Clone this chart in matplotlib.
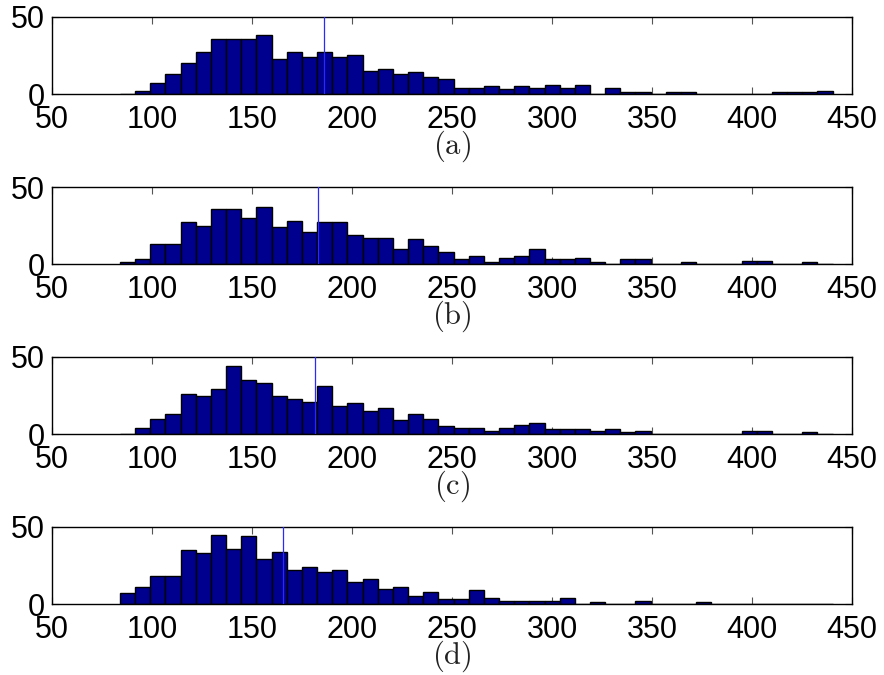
# Four stacked histograms (a)-(d) with a vertical marker line in each panel.

import numpy as np
import matplotlib
matplotlib.use("Agg")
import matplotlib.pyplot as plt
from matplotlib.transforms import offset_copy

# ----------------- DATA -----------------
# common histogram bins: 47 bins between ~84 and ~440
BIN_EDGES = np.linspace(84.0, 440.3, 48)

COUNTS_A = [0, 2, 7, 13, 20, 27, 36, 36, 36, 38, 23, 27, 24, 27, 24, 25,
            15, 16, 13, 14, 11, 10, 4, 4, 5, 3, 5, 4, 6, 4, 6, 0, 4, 1, 1,
            0, 1, 1, 0, 0, 0, 0, 0, 1, 1, 1, 2]
COUNTS_B = [1, 3, 13, 13, 27, 25, 36, 36, 30, 37, 24, 28, 21, 27, 27, 19,
            17, 17, 10, 16, 12, 8, 3, 5, 1, 4, 5, 10, 3, 3, 4, 1, 0, 3, 3,
            0, 0, 1, 0, 0, 0, 2, 2, 0, 0, 1, 0]
COUNTS_C = [0, 4, 10, 13, 26, 25, 29, 44, 35, 33, 25, 23, 21, 31, 18, 20,
            15, 17, 9, 13, 10, 5, 4, 4, 2, 4, 6, 7, 3, 3, 3, 2, 3, 1, 2,
            0, 0, 0, 0, 0, 0, 2, 2, 0, 0, 1, 0]
COUNTS_D = [7, 11, 18, 18, 35, 33, 45, 36, 44, 29, 34, 22, 24, 21, 22, 14,
            16, 10, 11, 5, 8, 3, 3, 9, 4, 2, 2, 2, 2, 4, 0, 1, 0, 0, 2,
            0, 0, 0, 1, 0, 0, 0, 0, 0, 0, 0, 0]

PANEL_COUNTS = [COUNTS_A, COUNTS_B, COUNTS_C, COUNTS_D]
PANEL_LABELS = ["(a)", "(b)", "(c)", "(d)"]
MARKER_X = [185.8, 183.0, 181.7, 165.5]   # vertical line positions

X_TICKS = [50, 100, 150, 200, 250, 300, 350, 400, 450]
Y_TICKS = [0, 50]
# ------------------------------------------------------------------

W, H = 884, 675
BAR_COLOR = "#00008f"
LINE_COLOR = "#2a2aff"
FONT_SIZE = 22

plt.rcParams["font.family"] = ["Liberation Sans", "DejaVu Sans"]
plt.rcParams["mathtext.fontset"] = "cm"

fig = plt.figure(figsize=(W / 100, H / 100), dpi=100)

centers = (BIN_EDGES[:-1] + BIN_EDGES[1:]) / 2
bin_w = BIN_EDGES[1] - BIN_EDGES[0]

top_px = [17, 187, 357, 527]
ax_h_px = 77

for i, counts in enumerate(PANEL_COUNTS):
    rect = [52 / W, 1 - (top_px[i] + ax_h_px) / H, 800 / W, ax_h_px / H]
    ax = fig.add_axes(rect)

    ax.bar(centers, counts, width=bin_w, color=BAR_COLOR,
           edgecolor="black", linewidth=1.0, zorder=2)
    ax.axvline(MARKER_X[i], color=LINE_COLOR, linewidth=0.9, zorder=3)

    ax.set_xlim(50, 450)
    ax.set_ylim(0, 50)
    ax.set_xticks(X_TICKS)
    ax.set_yticks(Y_TICKS)

    ax.tick_params(axis="x", direction="in", top=True, length=5, width=0.8,
                   color="#555555", labelsize=FONT_SIZE, pad=8)
    ax.tick_params(axis="y", direction="in", right=True, length=5, width=0.8,
                   color="#555555", labelsize=FONT_SIZE, pad=5)
    for sp in ax.spines.values():
        sp.set_linewidth(1.0)
        sp.set_color("black")

    # panel label below the tick labels (LaTeX-like serif)
    trans = offset_copy(ax.transAxes, fig=fig, x=0, y=-52, units="dots")
    ax.text(0.5, 0, r"$\mathrm{" + PANEL_LABELS[i] + "}$", transform=trans,
            ha="center", va="center", fontsize=FONT_SIZE, color="#222222")

fig.savefig("out.png", dpi=100)
